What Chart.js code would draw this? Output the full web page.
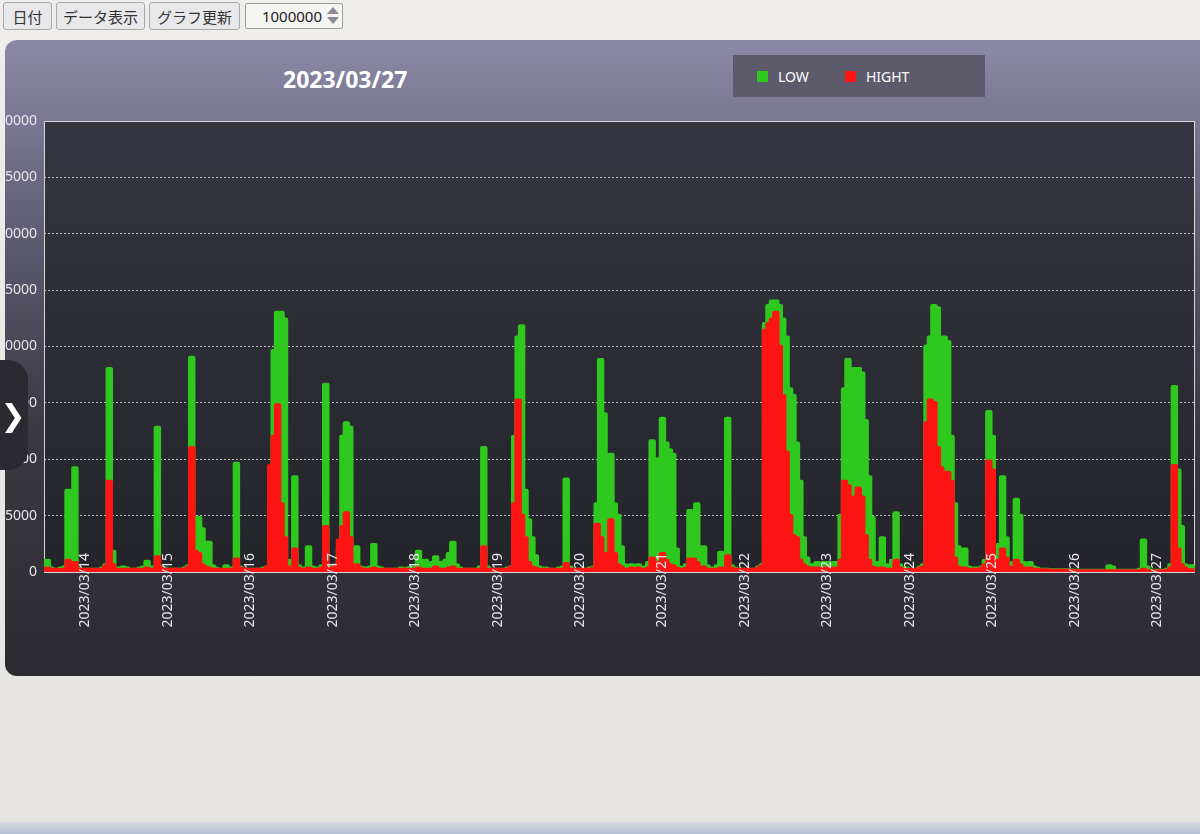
<!DOCTYPE html>
<html>
<head>
<meta charset="utf-8">
<script src="https://cdn.jsdelivr.net/npm/chart.js@4.4.1/dist/chart.umd.min.js"></script>
<style>
body { margin:0; width:1200px; height:834px; overflow:hidden; position:relative;
  background:linear-gradient(#efeeea, #e4e3df); font-family:"Noto Sans","Noto Sans CJK JP",sans-serif; }
.toolbar { position:absolute; left:3px; top:2px; display:flex; gap:4px; }
.toolbar button { height:28px; padding:0; font:15px "Noto Sans CJK JP"; color:#333;
  background:#e8e8eb; border:1px solid #a8a8ac; border-radius:3px; }
.numbox { position:absolute; left:245px; top:3px; width:96px; height:24px; border:1px solid #9a9a9e;
  background:#f4f4f2; border-radius:2px; font:15px "Noto Sans"; color:#222; }
.numbox span { position:absolute; right:20px; top:2px; }
.numbox .up, .numbox .down { position:absolute; right:3px; width:0; height:0;
  border-left:6px solid transparent; border-right:6px solid transparent; }
.numbox .up { top:3px; border-bottom:7px solid #8a8a90; }
.numbox .down { top:13px; border-top:7px solid #8a8a90; }
.card { position:absolute; left:5px; top:40px; width:1220px; height:636px; border-radius:12px;
  background:linear-gradient(#8b89a7 0%, #7a7893 12%, #58566a 35%, #3b3a44 60%, #2c2b32 100%); }
.title { position:absolute; left:283px; top:63px; font:bold 23px "Noto Sans"; color:#fff; }
.legend { position:absolute; left:733px; top:55px; width:252px; height:42px; background:#5d5b6b;
  display:flex; align-items:center; font:14px "Noto Sans"; color:#fff; }
.legend .item { display:flex; align-items:center; margin-left:24px; margin-right:12px; }
.legend .box { width:11px; height:11px; margin-right:10px; }
#chart { position:absolute; left:-20px; top:100px; }
.tab { position:absolute; left:-10px; top:360px; width:38px; height:110px; border-radius:0 20px 20px 0;
  background:#2b2a31; color:#fff; font:bold 30px "DejaVu Sans"; display:flex; align-items:center; justify-content:center; padding-left:8px; box-sizing:border-box; }
.taskbar { position:absolute; left:0; top:822px; width:1200px; height:12px; background:linear-gradient(#d5d7de,#b9c0d3); }
</style>
</head>
<body>
<div class="toolbar">
  <button style="width:49px">日付</button>
  <button style="width:89px">データ表示</button>
  <button style="width:91px">グラフ更新</button>
</div>
<div class="numbox"><span>1000000</span><b class="up"></b><b class="down"></b></div>
<div class="card"></div>
<div class="title">2023/03/27</div>
<div class="legend" id="legend"></div>
<canvas id="chart" width="1225" height="575"></canvas>
<div class="tab">❯</div>
<div class="taskbar"></div>
<script>
// day labels on the x axis (one tick per midnight)
const dayLabels = ["2023/03/14","2023/03/15","2023/03/16","2023/03/17","2023/03/18","2023/03/19","2023/03/20",
  "2023/03/21","2023/03/22","2023/03/23","2023/03/24","2023/03/25","2023/03/26","2023/03/27"];
// first sample is 03/13 12:00, hours counted from 03/14 00:00
const startHour = -12;

// hourly LOW values
const lowValues = [
  // 03/13 12:00-23:00
  2000, 5000, 1500, 1000, 1000, 1500, 2000, 36000, 2000, 46000, 1500, 1000,
  // 03/14
  1000, 1000, 1000, 1000, 1000, 1500, 3000, 90000, 9000, 1500, 1500, 2000, 1500, 1000, 1000, 1000, 1500, 2000, 4500, 2000, 2000, 64000, 2000, 1500,
  // 03/15
  1000, 1000, 1000, 1000, 1000, 1500, 2500, 95000, 22000, 24000, 19000, 13000, 13000, 2500, 1500, 1000, 1000, 2500, 1500, 1500, 48000, 2000, 1000, 1000,
  // 03/16
  1000, 1000, 1000, 1000, 1500, 2000, 30000, 98000, 115000, 115000, 112000, 5000, 2500, 42000, 2500, 1500, 1500, 11000, 2000, 1500, 1500, 2500, 83000, 2000,
  // 03/17
  1500, 3000, 10000, 60000, 66000, 64000, 5000, 11000, 2000, 1500, 1500, 2000, 12000, 2000, 1500, 1000, 1000, 1000, 1000, 1000, 1500, 1000, 1500, 2000,
  // 03/18
  2000, 9000, 4000, 5000, 3000, 4000, 6500, 4000, 3500, 5000, 8000, 13000, 3000, 1500, 1000, 1000, 1000, 1000, 1000, 2000, 55000, 2000, 1000, 1000,
  // 03/19
  1000, 1000, 1000, 1500, 2000, 60000, 104000, 109000, 36000, 23000, 15000, 7000, 2000, 1500, 1500, 1000, 1000, 1000, 1500, 2000, 41000, 2000, 1000, 1000,
  // 03/20
  1000, 1000, 1000, 1500, 2000, 30000, 94000, 70000, 40000, 52000, 30000, 25000, 11000, 3000, 2000, 3000, 2000, 3000, 1500, 2000, 4000, 58000, 45000, 50000,
  // 03/21
  68000, 57000, 54000, 52000, 10000, 2000, 1500, 3000, 27000, 24000, 30000, 4000, 11000, 2500, 1500, 1500, 2500, 8500, 2000, 68000, 2500, 1500, 1000, 1000,
  // 03/22
  1000, 1000, 1000, 1000, 2000, 3000, 110000, 118000, 120000, 120000, 118000, 112000, 104000, 81000, 78000, 57000, 40000, 15000, 6000, 3000, 3000, 4000, 3000, 4000,
  // 03/23
  4000, 3000, 4000, 4000, 25000, 81000, 94000, 58000, 90000, 90000, 88000, 67000, 42000, 24000, 4000, 2000, 15000, 3000, 2000, 5000, 26000, 3000, 1500, 1500,
  // 03/24
  1000, 1000, 1000, 2000, 3000, 100000, 104000, 118000, 117000, 91000, 104000, 102000, 60000, 30000, 11000, 3000, 10000, 2000, 1500, 1500, 1500, 2000, 5000, 71000,
  // 03/25
  60000, 8000, 12000, 42000, 15000, 4000, 3000, 32000, 25000, 4000, 3000, 4000, 2000, 1500, 1000, 1000, 1000, 800, 800, 800, 800, 800, 800, 800,
  // 03/26
  500, 500, 500, 500, 500, 500, 500, 500, 500, 500, 2500, 2000, 500, 500, 500, 500, 500, 500, 500, 1000, 14000, 2000, 500, 500,
  // 03/27 00:00-11:00
  500, 500, 500, 1000, 3000, 82000, 45000, 20000, 3000, 1500, 2500, 1000
];

// hourly HIGHT values
const highValues = [
  // 03/13 12:00-23:00
  1000, 1500, 1000, 1000, 1000, 1000, 1000, 5000, 1500, 4000, 1000, 1000,
  // 03/14
  1000, 1000, 1000, 1000, 1000, 1000, 2500, 40000, 3000, 1000, 1000, 1000, 1000, 1000, 1000, 1000, 1000, 1000, 1500, 1000, 1000, 6500, 1500, 1000,
  // 03/15
  1000, 1000, 1000, 1000, 1000, 1000, 2000, 55000, 9000, 8000, 3000, 2000, 1500, 1000, 1000, 1000, 1000, 1000, 1000, 1000, 5500, 1500, 1000, 1000,
  // 03/16
  1000, 1000, 1000, 1000, 1000, 2000, 47000, 60000, 74000, 30000, 15000, 2000, 1500, 10000, 1500, 1000, 1000, 1500, 1000, 1000, 1000, 1500, 20000, 1500,
  // 03/17
  1000, 3000, 14000, 20000, 26000, 15000, 2000, 3000, 1500, 1000, 1000, 1000, 1500, 1000, 1000, 1000, 1000, 1000, 1000, 1000, 1000, 1000, 1000, 1000,
  // 03/18
  1000, 1500, 1000, 1000, 1000, 1000, 2000, 1000, 1000, 1000, 1500, 2000, 1000, 1000, 1000, 1000, 1000, 1000, 1000, 1000, 11000, 1000, 1000, 1000,
  // 03/19
  1000, 1000, 1000, 1000, 2000, 30000, 76000, 25000, 15000, 4000, 2000, 1500, 1000, 1000, 1000, 1000, 1000, 1000, 1000, 1000, 3500, 1000, 1000, 1000,
  // 03/20
  1000, 1000, 1000, 1000, 1500, 21000, 15000, 6000, 8000, 23000, 8000, 3000, 2000, 1000, 1000, 1500, 1000, 1500, 1000, 1000, 1500, 6000, 4000, 3000,
  // 03/21
  8000, 5000, 3000, 2500, 1500, 1000, 1000, 1500, 5500, 5500, 4000, 1500, 2000, 1000, 1000, 1000, 1000, 1500, 1000, 7000, 1500, 1000, 1000, 1000,
  // 03/22
  1000, 1000, 1000, 1000, 1500, 2500, 107000, 110000, 112000, 115000, 100000, 78000, 53000, 25000, 16000, 15000, 5000, 3000, 2000, 1500, 1500, 1500, 1500, 1500,
  // 03/23
  1500, 1500, 1500, 1500, 5000, 40000, 38000, 10000, 33000, 37000, 33000, 16000, 5000, 2000, 1500, 1000, 1500, 1000, 1000, 1000, 5000, 1500, 1000, 1000,
  // 03/24
  1000, 1000, 1000, 1500, 2000, 66000, 76000, 75000, 55000, 46000, 36000, 44000, 40000, 6000, 2000, 1500, 1500, 1000, 1000, 1000, 1000, 1500, 3000, 49000,
  // 03/25
  45000, 3000, 5000, 10000, 6000, 2000, 1500, 5000, 3000, 1500, 1500, 1500, 1000, 1000, 800, 800, 800, 500, 500, 500, 500, 500, 500, 500,
  // 03/26
  300, 300, 300, 300, 300, 300, 300, 300, 300, 300, 300, 300, 300, 300, 300, 300, 300, 300, 300, 300, 1000, 300, 300, 300,
  // 03/27 00:00-11:00
  300, 300, 300, 500, 1500, 47000, 10000, 3000, 1500, 800, 800, 500
];

const yTicks = [0, 25000, 50000, 75000, 100000, 125000, 150000, 175000, 200000];

const green = "#2fc81f";
const red = "#ff1414";

const toPoints = (arr) => arr.map((v, i) => ({ x: startHour + i, y: v }));

// dark plot background and light frame around the chart area
const plotFrame = {
  id: "plotFrame",
  beforeDraw(chart) {
    const { ctx, chartArea: a } = chart;
    const g = ctx.createLinearGradient(0, a.top, 0, a.bottom);
    g.addColorStop(0, "#35353f");
    g.addColorStop(1, "#24242b");
    ctx.save();
    ctx.fillStyle = g;
    ctx.fillRect(a.left, a.top, a.right - a.left, a.bottom - a.top);
    ctx.restore();
  },
  beforeDatasetsDraw(chart) {
    const { ctx, chartArea: a } = chart;
    ctx.save();
    ctx.strokeStyle = "#d6d6dc";
    ctx.lineWidth = 1;
    ctx.strokeRect(a.left + 0.5, a.top + 0.5, a.right - a.left - 1, a.bottom - a.top);
    ctx.restore();
  }
};

// the date labels reach up into the plot, so let the x axis box start above the plot bottom
const raiseDateLabels = {
  id: "raiseDateLabels",
  afterLayout(chart) { chart.scales.x.top -= 20; }
};

const chart = new Chart(document.getElementById("chart"), {
  type: "line",
  data: {
    datasets: [
      { label: "LOW", data: toPoints(lowValues), borderColor: green, backgroundColor: green, order: 1 },
      { label: "HIGHT", data: toPoints(highValues), borderColor: red, backgroundColor: red, order: 0 }
    ]
  },
  options: {
    responsive: false,
    animation: false,
    devicePixelRatio: 1,
    layout: { padding: { top: 21, right: 10, left: 0, bottom: 0 } },
    elements: {
      line: { borderWidth: 4, fill: "origin", stepped: "middle", tension: 0,
              borderJoinStyle: "round", borderCapStyle: "round" },
      point: { radius: 0 }
    },
    plugins: { legend: { display: false }, tooltip: { enabled: false } },
    scales: {
      x: {
        type: "linear",
        min: startHour,
        max: startHour + lowValues.length - 1,
        afterBuildTicks: (s) => { s.ticks = dayLabels.map((d, i) => ({ value: i * 24 })); },
        afterFit: (s) => { s.height = 103; },
        grid: { display: false, drawTicks: false },
        border: { display: false },
        ticks: {
          z: 1,
          autoSkip: false, maxRotation: 90, minRotation: 90, padding: 1,
          color: "#e8e8ec", font: { size: 14, family: "Noto Sans" },
          callback: (v) => dayLabels[v / 24]
        }
      },
      y: {
        min: 0,
        max: 200000,
        afterBuildTicks: (s) => { s.ticks = yTicks.map(v => ({ value: v })); },
        afterFit: (s) => { s.width = 64; },
        grid: { color: "rgba(225,225,230,0.8)", lineWidth: 1, drawTicks: false },
        border: { display: false, dash: [2, 2] },
        ticks: { padding: 7, color: "#e6e6ea", font: { size: 14, family: "Noto Sans" },
                 callback: (v) => String(v) }
      }
    }
  },
  plugins: [plotFrame, raiseDateLabels]
});

// legend built from the chart's datasets
const legend = document.getElementById("legend");
chart.data.datasets.forEach((ds) => {
  const item = document.createElement("div");
  item.className = "item";
  item.innerHTML = '<span class="box" style="background:' + ds.borderColor + '"></span>' + ds.label;
  legend.appendChild(item);
});
</script>
</body>
</html>
